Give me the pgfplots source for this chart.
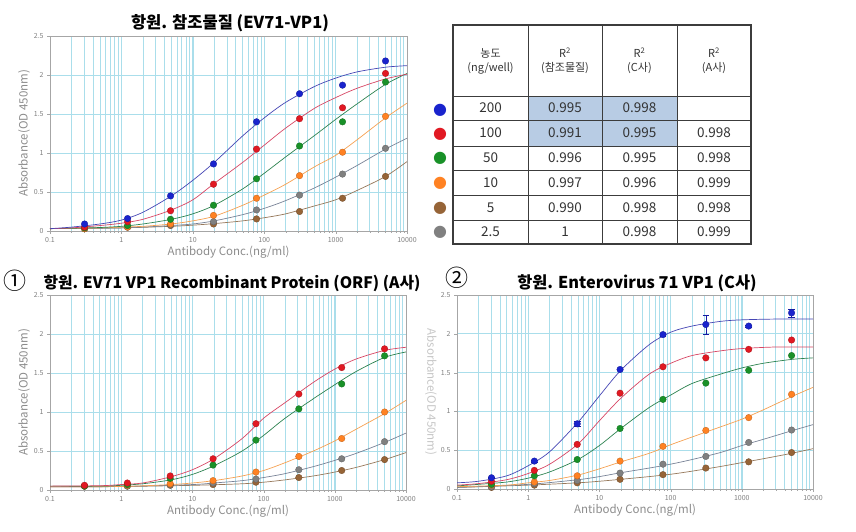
\documentclass[border=0pt]{standalone}
\usepackage{pgfplots}
\pgfplotsset{compat=1.18}
\usepackage{fontspec}
\setmainfont{Noto Sans CJK KR}
\newfontfamily\symfont{DejaVu Sans}

\definecolor{cBlue}{RGB}{25,35,205}
\definecolor{cRed}{RGB}{225,25,35}
\definecolor{cGreen}{RGB}{25,145,40}
\definecolor{cOrange}{RGB}{255,130,35}
\definecolor{cBrown}{RGB}{150,100,55}
\definecolor{cGray}{RGB}{128,128,128}
\definecolor{lBlue}{RGB}{70,70,180}
\definecolor{lRed}{RGB}{215,70,100}
\definecolor{lGreen}{RGB}{45,130,80}
\definecolor{lOrange}{RGB}{245,160,80}
\definecolor{lBrown}{RGB}{150,120,90}
\definecolor{lGray}{RGB}{120,130,150}
\definecolor{gridc}{RGB}{170,222,235}
\definecolor{hl}{RGB}{184,204,228}
\definecolor{tline}{RGB}{60,60,60}

\pgfplotsset{
  every axis/.append style={
    scale only axis, xmin=0.1, xmax=10000, ymin=0, ymax=2.5,
    xtick={0.1,1,10,100,1000,10000}, xticklabels={0.1,1,10,100,1000,10000},
    ytick={0,0.5,1,1.5,2,2.5}, yticklabels={0,0.5,1,1.5,2,2.5},
    grid=both,
    major grid style={gridc, line width=0.8pt},
    minor grid style={gridc, line width=0.6pt},
    axis line style={gray!70}, tick style={gray!70},
    major tick length=3pt, minor tick length=1.5pt,
    xtick pos=bottom, ytick pos=left, tick align=outside,
    ticklabel style={font=\fontsize{7}{8}\selectfont, text=gray},
    xlabel style={font=\fontsize{11.5}{12}\selectfont, text=gray!90, yshift=3pt},
    ylabel style={font=\fontsize{11.5}{12}\selectfont, text=gray!90, yshift=-3pt},
  },
  curveln/.style={#1, smooth, no marks, line width=0.7pt},
  dotpts/.style={only marks, mark=*, mark size=3.3pt, mark options={fill=#1, draw=#1!75!black, line width=0.3pt}},
}

\begin{document}
\begin{tikzpicture}
\path[use as bounding box] (0pt,0pt) rectangle (856pt,-531pt);

% ---------- top left: reference material ----------
\node[font=\bfseries\fontsize{16.5}{17}\selectfont] at (230pt,-23pt) {항원. 참조물질 (EV71-VP1)};
\begin{semilogxaxis}[/pgf/number format/assume math mode=true,
  xlabel={Antibody Conc.(ng/ml)}, ylabel={Absorbance(OD 450nm)},
  at={(50pt,-231pt)}, anchor=south west, width=357pt, height=195pt]
\addplot[curveln=lBrown] coordinates {(0.1,0.03) (1,0.04) (5,0.06) (10,0.075) (20,0.095) (50,0.13) (100,0.17) (200,0.22) (500,0.32) (1000,0.40) (2000,0.52) (5000,0.70) (10000,0.89)};
\addplot[curveln=lGray] coordinates {(0.1,0.03) (0.5,0.035) (1,0.04) (2,0.05) (5,0.07) (10,0.09) (20,0.13) (50,0.21) (100,0.29) (200,0.39) (500,0.55) (1000,0.69) (2000,0.84) (5000,1.05) (10000,1.19)};
\addplot[curveln=lOrange] coordinates {(0.1,0.03) (0.5,0.04) (1,0.05) (2,0.06) (5,0.09) (10,0.13) (20,0.19) (50,0.33) (100,0.46) (200,0.60) (500,0.82) (1000,0.97) (2000,1.17) (5000,1.45) (10000,1.64)};
\addplot[curveln=lGreen] coordinates {(0.1,0.03) (0.2,0.035) (0.5,0.045) (1,0.06) (2,0.09) (5,0.15) (10,0.22) (20,0.33) (50,0.54) (100,0.74) (200,0.95) (500,1.22) (1000,1.43) (2000,1.63) (5000,1.88) (10000,2.02)};
\addplot[curveln=lRed] coordinates {(0.1,0.03) (0.2,0.04) (0.5,0.07) (1,0.10) (2,0.15) (5,0.27) (10,0.40) (20,0.61) (50,0.88) (100,1.10) (200,1.32) (500,1.57) (1000,1.71) (2000,1.83) (5000,1.95) (10000,2.01)};
\addplot[curveln=lBlue] coordinates {(0.1,0.03) (0.2,0.05) (0.5,0.09) (1,0.14) (2,0.24) (5,0.45) (10,0.65) (20,0.88) (50,1.22) (100,1.45) (200,1.65) (500,1.85) (1000,1.96) (2000,2.04) (5000,2.10) (10000,2.12)};
\addplot[dotpts=cBrown] coordinates {(0.305,0.03) (1.22,0.05) (4.88,0.07) (19.5,0.09) (78.1,0.155) (312.5,0.25) (1250,0.42) (5000,0.70)};
\addplot[dotpts=cGray] coordinates {(0.305,0.03) (1.22,0.05) (4.88,0.08) (19.5,0.12) (78.1,0.27) (312.5,0.46) (1250,0.73) (5000,1.06)};
\addplot[dotpts=cOrange] coordinates {(0.305,0.03) (1.22,0.05) (4.88,0.09) (19.5,0.20) (78.1,0.42) (312.5,0.71) (1250,1.01) (5000,1.47)};
\addplot[dotpts=cGreen] coordinates {(0.305,0.04) (1.22,0.07) (4.88,0.15) (19.5,0.33) (78.1,0.67) (312.5,1.09) (1250,1.40) (5000,1.91)};
\addplot[dotpts=cRed] coordinates {(0.305,0.05) (1.22,0.12) (4.88,0.26) (19.5,0.60) (78.1,1.05) (312.5,1.44) (1250,1.58) (5000,2.02)};
\addplot[dotpts=cBlue] coordinates {(0.305,0.09) (1.22,0.16) (4.88,0.45) (19.5,0.86) (78.1,1.40) (312.5,1.76) (1250,1.87) (5000,2.18)};
\end{semilogxaxis}

% ---------- R^2 table ----------
\begin{scope}[x=1pt, y=-1pt]
\fill[hl] (528,96) rectangle (677,146);
\foreach \y in {96,120,146,170,195,220} \draw[tline, line width=0.9pt] (453,\y) -- (751,\y);
\foreach \x in {528,602,677} \draw[tline, line width=0.9pt] (\x,25) -- (\x,244);
\draw[tline, line width=1.3pt] (453,25) rectangle (751,244);
\begin{scope}[every node/.style={align=center, text=black!80, font=\fontsize{11}{14}\selectfont}]
\node at (490.5,61) {농도\\(ng/well)};
\node at (565,61) {R\textsuperscript{2}\\(참조물질)};
\node at (639.5,61) {R\textsuperscript{2}\\(C사)};
\node at (714,61) {R\textsuperscript{2}\\(A사)};
\end{scope}
\begin{scope}[every node/.style={text=black!80, font=\fontsize{13.5}{14}\selectfont}]
\node at (490.5,108) {200}; \node at (565,108) {0.995}; \node at (639.5,108) {0.998};
\node at (490.5,133) {100}; \node at (565,133) {0.991}; \node at (639.5,133) {0.995}; \node at (714,133) {0.998};
\node at (490.5,158) {50};  \node at (565,158) {0.996}; \node at (639.5,158) {0.995}; \node at (714,158) {0.998};
\node at (490.5,182.5) {10}; \node at (565,182.5) {0.997}; \node at (639.5,182.5) {0.996}; \node at (714,182.5) {0.999};
\node at (490.5,207.5) {5}; \node at (565,207.5) {0.990}; \node at (639.5,207.5) {0.998}; \node at (714,207.5) {0.998};
\node at (490.5,232) {2.5}; \node at (565,232) {1}; \node at (639.5,232) {0.998}; \node at (714,232) {0.999};
\end{scope}
\begin{scope}[every node/.style={font=\symfont\fontsize{16}{16}\selectfont}]
\node[text=cBlue] at (440,110) {●};
\node[text=cRed] at (440,134) {●};
\node[text=cGreen] at (440,158) {●};
\node[text=cOrange] at (440,183) {●};
\node[text=cBrown] at (440,208) {●};
\node[text=cGray] at (440,232) {●};
\end{scope}
\end{scope}

% ---------- bottom left: company A ----------
\node[font=\fontsize{23}{24}\selectfont] at (15pt,-281pt) {①};
\node[font=\bfseries\fontsize{15.8}{16}\selectfont, anchor=west] at (40pt,-283pt) {항원. EV71 VP1 Recombinant Protein (ORF) (A사)};
\begin{semilogxaxis}[/pgf/number format/assume math mode=true,
  xlabel={Antibody Conc.(ng/ml)}, ylabel={Absorbance(OD 450nm)},
  at={(50pt,-490pt)}, anchor=south west, width=356pt, height=195pt]
\addplot[curveln=lBrown] coordinates {(0.1,0.04) (1,0.045) (10,0.06) (50,0.08) (100,0.10) (200,0.13) (500,0.18) (1000,0.23) (2000,0.29) (5000,0.39) (10000,0.48)};
\addplot[curveln=lGray] coordinates {(0.1,0.04) (1,0.045) (10,0.07) (20,0.09) (50,0.12) (100,0.16) (200,0.21) (500,0.30) (1000,0.38) (2000,0.47) (5000,0.61) (10000,0.73)};
\addplot[curveln=lOrange] coordinates {(0.1,0.04) (1,0.045) (5,0.07) (10,0.09) (20,0.12) (50,0.18) (100,0.25) (200,0.35) (500,0.50) (1000,0.63) (2000,0.78) (5000,0.98) (10000,1.15)};
\addplot[curveln=lGreen] coordinates {(0.1,0.05) (0.5,0.05) (1,0.06) (2,0.08) (5,0.13) (10,0.20) (20,0.31) (50,0.50) (100,0.70) (200,0.92) (500,1.17) (1000,1.35) (2000,1.52) (5000,1.70) (10000,1.77)};
\addplot[curveln=lRed] coordinates {(0.1,0.05) (0.5,0.055) (1,0.07) (2,0.09) (5,0.17) (10,0.26) (20,0.40) (50,0.66) (100,0.92) (200,1.12) (500,1.38) (1000,1.55) (2000,1.68) (5000,1.79) (10000,1.83)};
\addplot[dotpts=cBrown] coordinates {(0.305,0.05) (1.22,0.05) (4.88,0.06) (19.5,0.07) (78.1,0.10) (312.5,0.16) (1250,0.25) (5000,0.39)};
\addplot[dotpts=cGray] coordinates {(0.305,0.05) (1.22,0.05) (4.88,0.07) (19.5,0.09) (78.1,0.14) (312.5,0.26) (1250,0.40) (5000,0.62)};
\addplot[dotpts=cOrange] coordinates {(0.305,0.05) (1.22,0.06) (4.88,0.08) (19.5,0.12) (78.1,0.23) (312.5,0.43) (1250,0.66) (5000,1.00)};
\addplot[dotpts=cGreen] coordinates {(0.305,0.05) (1.22,0.07) (4.88,0.15) (19.5,0.32) (78.1,0.64) (312.5,1.04) (1250,1.36) (5000,1.72)};
\addplot[dotpts=cRed] coordinates {(0.305,0.06) (1.22,0.09) (4.88,0.18) (19.5,0.40) (78.1,0.85) (312.5,1.23) (1250,1.57) (5000,1.81)};
\end{semilogxaxis}

% ---------- bottom right: company C ----------
\node[font=\fontsize{23}{24}\selectfont] at (457pt,-278pt) {②};
\node[font=\bfseries\fontsize{16.3}{17}\selectfont] at (637pt,-283pt) {항원. Enterovirus 71 VP1 (C사)};
\begin{semilogxaxis}[/pgf/number format/assume math mode=true,
  xlabel={Antibody Conc.(ng/ml)}, ylabel={Absorbance(OD 450nm)},
  at={(457pt,-489pt)}, anchor=south west, width=356pt, height=194pt,
  ylabel style={rotate=180, text=gray!45}]
\addplot[curveln=lBrown] coordinates {(0.1,0.02) (1,0.05) (5,0.08) (10,0.10) (20,0.125) (50,0.16) (100,0.19) (200,0.23) (500,0.29) (1000,0.34) (2000,0.39) (5000,0.46) (10000,0.52)};
\addplot[curveln=lGray] coordinates {(0.1,0.02) (1,0.06) (5,0.12) (10,0.16) (20,0.21) (50,0.27) (100,0.32) (200,0.38) (500,0.47) (1000,0.56) (2000,0.64) (5000,0.75) (10000,0.83)};
\addplot[curveln=lOrange] coordinates {(0.1,0.03) (0.5,0.05) (1,0.08) (2,0.11) (5,0.18) (10,0.26) (20,0.35) (50,0.46) (100,0.57) (200,0.67) (500,0.80) (1000,0.90) (2000,1.02) (5000,1.19) (10000,1.31)};
\addplot[curveln=lGreen] coordinates {(0.1,0.04) (0.2,0.06) (0.5,0.09) (1,0.14) (2,0.22) (5,0.38) (10,0.56) (20,0.78) (50,1.05) (100,1.21) (200,1.36) (500,1.48) (1000,1.56) (2000,1.62) (5000,1.67) (10000,1.69)};
\addplot[curveln=lRed] coordinates {(0.1,0.05) (0.2,0.07) (0.5,0.12) (1,0.20) (2,0.32) (5,0.58) (10,0.88) (20,1.17) (50,1.48) (100,1.62) (200,1.72) (500,1.78) (1000,1.81) (3000,1.83) (10000,1.83)};
\addplot[curveln=lBlue] coordinates {(0.1,0.08) (0.2,0.10) (0.5,0.17) (1,0.30) (2,0.48) (5,0.86) (10,1.20) (20,1.53) (50,1.86) (100,2.02) (200,2.10) (500,2.16) (1000,2.18) (3000,2.19) (10000,2.19)};
\addplot[dotpts=cBrown] coordinates {(0.305,0.02) (1.22,0.05) (4.88,0.08) (19.5,0.125) (78.1,0.185) (312.5,0.27) (1250,0.35) (5000,0.47)};
\addplot[dotpts=cGray] coordinates {(0.305,0.03) (1.22,0.07) (4.88,0.11) (19.5,0.205) (78.1,0.32) (312.5,0.42) (1250,0.60) (5000,0.76)};
\addplot[dotpts=cOrange] coordinates {(0.305,0.05) (1.22,0.09) (4.88,0.17) (19.5,0.36) (78.1,0.55) (312.5,0.755) (1250,0.92) (5000,1.22)};
\addplot[dotpts=cGreen] coordinates {(0.305,0.06) (1.22,0.17) (4.88,0.38) (19.5,0.78) (78.1,1.155) (312.5,1.365) (1250,1.53) (5000,1.72)};
\addplot[dotpts=cRed] coordinates {(0.305,0.10) (1.22,0.24) (4.88,0.575) (19.5,1.235) (78.1,1.575) (312.5,1.69) (1250,1.80) (5000,1.92)};
\addplot[dotpts=cBlue, error bars/.cd, y dir=both, y explicit, error bar style={cBlue!80!black, line width=0.6pt}]
  coordinates {(0.305,0.145) +- (0,0.01) (1.22,0.36) +- (0,0.01) (4.88,0.84) +- (0,0.03) (19.5,1.54) +- (0,0.01) (78.1,1.99) +- (0,0.02) (312.5,2.12) +- (0,0.12) (1250,2.10) +- (0,0.01) (5000,2.27) +- (0,0.05)};
\end{semilogxaxis}
\end{tikzpicture}
\end{document}
